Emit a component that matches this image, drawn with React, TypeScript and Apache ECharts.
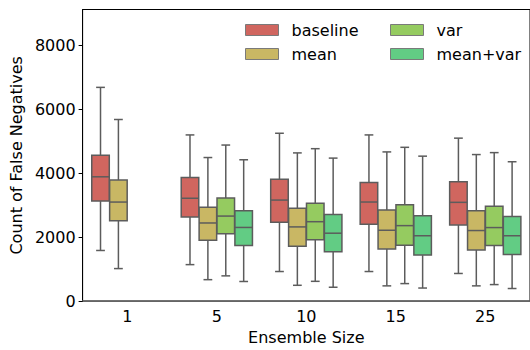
import React, { useEffect, useRef } from "react";
import * as echarts from "echarts";

const categories = ["1", "5", "10", "15", "25"];
const hues = ["baseline", "mean", "var", "mean+var"];
const colors = ["#d0665f", "#c9b764", "#95cb60", "#62cc84"];

// [categoryIndex, min, q1, median, q3, max]
const baselineData = [
  [0, 1585, 3132, 3892, 4570, 6692],
  [1, 1142, 2631, 3220, 3871, 5203],
  [2, 926, 2465, 3163, 3818, 5255],
  [3, 926, 2403, 3102, 3717, 5203],
  [4, 865, 2385, 3092, 3738, 5102],
];
const meanData = [
  [0, 1018, 2517, 3101, 3788, 5686],
  [1, 671, 1902, 2446, 2938, 4495],
  [2, 495, 1717, 2323, 2908, 4640],
  [3, 477, 1634, 2218, 2855, 4671],
  [4, 477, 1603, 2209, 2825, 4588],
];
const varData = [
  [1, 790, 2108, 2662, 3230, 4886],
  [2, 619, 1923, 2486, 3062, 4772],
  [3, 548, 1748, 2363, 3018, 4815],
  [4, 517, 1738, 2302, 2969, 4649],
];
const meanVarData = [
  [1, 614, 1743, 2306, 2825, 4425],
  [2, 434, 1542, 2126, 2711, 4477],
  [3, 409, 1440, 2046, 2671, 4538],
  [4, 394, 1461, 2046, 2649, 4363],
];
const seriesData = [baselineData, meanData, varData, meanVarData];

const yTicks = [0, 2000, 4000, 6000, 8000];
const yMax = 9130;

const EDGE = "#5c5c5c";
const FONT = "DejaVu Sans";

function makeRenderItem(hueIdx: number, color: string) {
  return (params: any, api: any) => {
    const cat = api.value(0);
    const band = api.size([1, 0])[0];
    const slot = (band * 0.8) / 4;
    const bw = slot * 0.98;
    const off = (hueIdx - 1.5) * slot;
    const pMin = api.coord([cat, api.value(1)]);
    const pQ1 = api.coord([cat, api.value(2)]);
    const pMed = api.coord([cat, api.value(3)]);
    const pQ3 = api.coord([cat, api.value(4)]);
    const pMax = api.coord([cat, api.value(5)]);
    const cx = pMin[0] + off;
    const capHalf = bw / 4;
    const lineStyle = { stroke: EDGE, lineWidth: 1.5, fill: null };
    return {
      type: "group",
      children: [
        { type: "line", shape: { x1: cx, y1: pQ3[1], x2: cx, y2: pMax[1] }, style: lineStyle },
        { type: "line", shape: { x1: cx, y1: pQ1[1], x2: cx, y2: pMin[1] }, style: lineStyle },
        { type: "line", shape: { x1: cx - capHalf, y1: pMax[1], x2: cx + capHalf, y2: pMax[1] }, style: lineStyle },
        { type: "line", shape: { x1: cx - capHalf, y1: pMin[1], x2: cx + capHalf, y2: pMin[1] }, style: lineStyle },
        {
          type: "rect",
          shape: { x: cx - bw / 2, y: pQ3[1], width: bw, height: pQ1[1] - pQ3[1] },
          style: { fill: color, stroke: EDGE, lineWidth: 1.5 },
        },
        { type: "line", shape: { x1: cx - bw / 2, y1: pMed[1], x2: cx + bw / 2, y2: pMed[1] }, style: lineStyle },
      ],
    };
  };
}

export default function App() {
  const ref = useRef<HTMLDivElement>(null);
  useEffect(() => {
    if (!ref.current) return;
    document.body.style.margin = "0";
    const chart = echarts.init(ref.current, null, { renderer: "svg" });
    const legendCommon = {
      orient: "vertical" as const,
      icon: "rect",
      itemWidth: 33,
      itemHeight: 11,
      itemGap: 8,
      padding: 0,
      itemStyle: { borderColor: "#7a7a7a", borderWidth: 1 },
      textStyle: { fontFamily: FONT, fontSize: 16, color: "#000", padding: [0, 0, 0, 8] },
    };
    chart.setOption({
      animation: false,
      textStyle: { fontFamily: FONT },
      grid: {
        left: 82,
        top: 9.5,
        width: 453,
        height: 296.5,
        show: true,
        borderColor: "#000",
        borderWidth: 1,
        backgroundColor: "transparent",
      },
      legend: [
        { ...legendCommon, left: 245, top: 22, data: [hues[0], hues[1]] },
        { ...legendCommon, left: 390, top: 22, data: [hues[2], hues[3]] },
      ],
      xAxis: {
        type: "category",
        data: categories,
        name: "Ensemble Size",
        nameLocation: "middle",
        nameGap: 26,
        nameTextStyle: { fontFamily: FONT, fontSize: 16, color: "#000" },
        axisLine: { lineStyle: { color: "#666", width: 1.5 } },
        axisTick: { alignWithLabel: true, length: 4, lineStyle: { color: "#444" } },
        axisLabel: { fontFamily: FONT, fontSize: 16, color: "#000", margin: 7 },
        splitLine: { show: false },
      },
      yAxis: {
        type: "value",
        min: 0,
        max: yMax,
        interval: 2000,
        name: "Count of False Negatives",
        nameLocation: "middle",
        nameGap: 48,
        nameTextStyle: { fontFamily: FONT, fontSize: 16, color: "#000" },
        axisLine: { show: true, lineStyle: { color: "#000", width: 1 } },
        axisTick: { show: true, length: 4, lineStyle: { color: "#000" } },
        axisLabel: {
          fontFamily: FONT,
          fontSize: 16,
          color: "#000",
          margin: 7,
          showMaxLabel: false,
          formatter: (v: number) => (yTicks.includes(v) ? String(v) : ""),
        },
        splitLine: { show: false },
      },
      series: hues.map((name, i) => ({
        type: "custom",
        name,
        itemStyle: { color: colors[i], borderColor: EDGE },
        renderItem: makeRenderItem(i, colors[i]),
        encode: { x: 0, y: [1, 2, 3, 4, 5] },
        data: seriesData[i],
      })),
    });
    return () => chart.dispose();
  }, []);
  return <div ref={ref} style={{ width: 530, height: 350 }} />;
}
